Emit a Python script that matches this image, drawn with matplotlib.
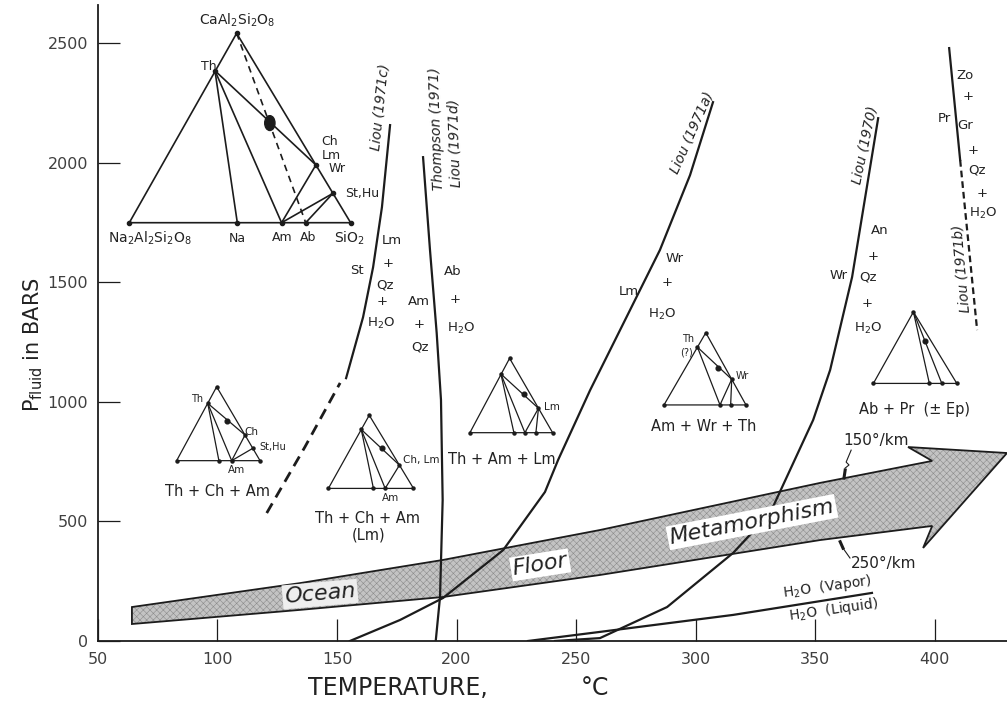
import numpy as np
import matplotlib.pyplot as plt
from matplotlib.patches import Polygon, Ellipse

plt.rcParams['font.family'] = ['DejaVu Sans']
plt.rcParams['hatch.linewidth'] = 0.4
plt.rcParams['mathtext.fontset'] = 'dejavusans'

# reaction curves, temperature (C) vs P fluid (bars)
liou_1971c_T = [153.8, 160.9, 165.1, 168.8, 172.2]
liou_1971c_P = [1099, 1354, 1563, 1814, 2157]
liou_1971c_dash_T = [120.6, 136.5, 151.3]
liou_1971c_dash_P = [535, 810, 1079]

thompson_T = [186.0, 188.9, 191.7, 193.5, 194.2, 193.1, 191.3]
thompson_P = [2023, 1635, 1288, 1008, 589, 184, 0]

liou_1971a_T = [155.4, 176.4, 194.4, 219.5, 237.0, 242.5, 255.9, 272.6, 285.1, 297.7, 307.3]
liou_1971a_P = [0, 88, 180, 380, 623, 757, 1049, 1384, 1635, 1948, 2253]

liou_1970_T = [241.2, 260.0, 288.1, 315.7, 331.2, 349.2, 356.3, 365.5, 376.4]
liou_1970_P = [0, 12, 142, 368, 535, 924, 1133, 1522, 2186]

liou_1971b_T = [406.1, 410.7]
liou_1971b_P = [2479, 2011]
liou_1971b_dash_T = [410.7, 417.8]
liou_1971b_dash_P = [2011, 1300]

h2o_T = [229.9, 260.0, 315.7, 373.8]
h2o_P = [0, 38, 109, 201]

# ocean floor metamorphism arrow outline
arrow_T = [64.2, 134.5, 194.4, 260.0, 352.1, 399.0, 388.9, 430.3, 395.2, 399.0,
           352.1, 260.0, 194.4, 134.5, 64.2]
arrow_P = [142, 242, 339, 464, 661, 753, 811, 786, 389, 481,
           422, 276, 184, 130, 71]

# ternary diagrams: base fraction u, height fraction v
big_u = [0.0, 1.0, 0.485, 0.387, 0.843, 0.920, 0.488, 0.688, 0.797]
big_v = [0.0, 0.0, 1.0, 0.8025, 0.3047, 0.155, 0.0, 0.0, 0.0]
big_ties = [(3, 6), (3, 7), (3, 4), (7, 4), (7, 5), (8, 5)]
big_blob = (0.635, 0.526)

a_u = [0.0, 1.0, 0.48, 0.373, 0.82, 0.913, 0.507, 0.66]
a_v = [0.0, 0.0, 1.0, 0.776, 0.347, 0.167, 0.0, 0.0]
a_ties = [(3, 6), (3, 7), (3, 4), (4, 7), (5, 7)]
a_blob = (0.606, 0.541)

b_u = [0.0, 1.0, 0.48, 0.386, 0.835, 0.529, 0.667]
b_v = [0.0, 0.0, 1.0, 0.805, 0.318, 0.0, 0.0]
b_ties = [(3, 5), (3, 6), (3, 4), (4, 6)]
b_blob = (0.628, 0.546)

c_u = [0.0, 1.0, 0.48, 0.375, 0.829, 0.532, 0.665, 0.798]
c_v = [0.0, 0.0, 1.0, 0.789, 0.328, 0.0, 0.0, 0.0]
c_ties = [(3, 5), (3, 6), (3, 4), (4, 6), (4, 7)]
c_blob = (0.653, 0.52)

d_u = [0.0, 1.0, 0.51, 0.408, 0.826, 0.683, 0.813]
d_v = [0.0, 0.0, 1.0, 0.80, 0.355, 0.0, 0.0]
d_ties = [(3, 5), (3, 4), (4, 5), (4, 6)]
d_blob = (0.655, 0.508)

e_u = [0.0, 1.0, 0.48, 0.671, 0.82]
e_v = [0.0, 0.0, 1.0, 0.0, 0.0]
e_ties = [(2, 3), (2, 4)]
e_blob = (0.62, 0.6)

ink = '#1c1c1c'

fig = plt.figure(figsize=(10.07, 7.05), dpi=100)
ax = fig.add_axes([0.0973, 0.0908, 0.9027, 0.902])
ax.set_xlim(50, 430.3)
ax.set_ylim(0, 2659)

for s in ['top', 'right']:
    ax.spines[s].set_visible(False)
for s in ['left', 'bottom']:
    ax.spines[s].set_linewidth(1.3)
    ax.spines[s].set_color(ink)

ax.set_xticks(range(50, 401, 50))
ax.set_yticks(range(0, 2501, 500))
ax.tick_params(direction='in', length=16, width=0.9, colors=ink,
               labelsize=11.5, labelcolor='#404040')
ax.tick_params(axis='x', pad=8)
ax.tick_params(axis='y', pad=7)

fig.text(0.395, 0.024, 'TEMPERATURE,', fontsize=17, ha='center', va='center', color='#222222')
fig.text(0.591, 0.024, '°C', fontsize=17, ha='center', va='center', color='#222222')
fig.text(0.033, 0.511, r'P$_{\mathrm{fluid}}$ in BARS', fontsize=15, rotation=90,
         ha='center', va='center', color='#222222')

# arrow band
band = list(zip(arrow_T, arrow_P))
ax.add_patch(Polygon(band, closed=True, facecolor='#c3c3c3', edgecolor='none', zorder=1, clip_on=False))
ax.add_patch(Polygon(band, closed=True, facecolor='none', edgecolor='#8c8c8c', hatch='xxxxx',
                     linewidth=0, zorder=1.1, clip_on=False))
ax.add_patch(Polygon(band, closed=True, facecolor='none', edgecolor=ink, linewidth=1.3,
                     zorder=1.2, clip_on=False))

# curves
lw = 1.6
ax.plot(liou_1971c_T, liou_1971c_P, color=ink, lw=lw, zorder=3)
ax.plot(liou_1971c_dash_T, liou_1971c_dash_P, color=ink, lw=lw + 0.4, ls=(0, (4, 2.5)), zorder=3)
ax.plot(thompson_T, thompson_P, color=ink, lw=lw, zorder=3)
ax.plot(liou_1971a_T, liou_1971a_P, color=ink, lw=lw, zorder=3)
ax.plot(liou_1970_T, liou_1970_P, color=ink, lw=lw, zorder=3)
ax.plot(liou_1971b_T, liou_1971b_P, color=ink, lw=lw, zorder=3)
ax.plot(liou_1971b_dash_T, liou_1971b_dash_P, color=ink, lw=lw, ls=(0, (3, 1.8)), zorder=3)
ax.plot(h2o_T, h2o_P, color=ink, lw=lw, zorder=3)


def draw_tri(origin, w, h, us, vs, ties, blob, lw=0.9, ms=2.2, blob_ms=3.4, dashed=None, big=False):
    T = origin[0] + np.array(us) * w
    P = origin[1] + np.array(vs) * h
    idx = [0, 1, 2, 0]
    ax.plot(T[idx], P[idx], color=ink, lw=lw, zorder=3)
    for i, j in ties:
        ax.plot(T[[i, j]], P[[i, j]], color=ink, lw=lw, zorder=3)
    if dashed:
        i, j = dashed
        ax.plot(T[[i, j]], P[[i, j]], color=ink, lw=lw, ls=(0, (4, 3)), zorder=3)
    ax.plot(T, P, 'o', color=ink, ms=ms, zorder=3)
    bx, by = origin[0] + blob[0] * w, origin[1] + blob[1] * h
    if big:
        ax.add_patch(Ellipse((bx, by), 4.3, 62, color=ink, zorder=3))
    else:
        ax.plot([bx], [by], 'o', color=ink, ms=blob_ms, zorder=3)


draw_tri((63.1, 1749), 92.6, 792, big_u, big_v, big_ties, big_blob, lw=1.2, ms=3,
         dashed=(2, 8), big=True)
draw_tri((82.9, 754), 34.9, 309, a_u, a_v, a_ties, a_blob)
draw_tri((146.4, 638), 35.6, 306, b_u, b_v, b_ties, b_blob)
draw_tri((205.6, 871), 34.6, 311, c_u, c_v, c_ties, c_blob)
draw_tri((286.8, 987), 34.3, 302, d_u, d_v, d_ties, d_blob)
draw_tri((374.4, 1077), 34.9, 299, e_u, e_v, e_ties, e_blob)


def label(x, y, s, size=10, **kw):
    kw.setdefault('ha', 'center')
    kw.setdefault('va', 'center')
    ax.text(x, y, s, fontsize=size, color='#222222', zorder=5, **kw)


# big ternary labels
label(108.0, 2596, r'CaAl$_2$Si$_2$O$_8$', 10)
label(96.2, 2401, 'Th', 9)
label(143.6, 2087, 'Ch', 9, ha='left')
label(143.6, 2032, 'Lm', 9, ha='left')
label(146.5, 1976, 'Wr', 9, ha='left')
label(153.5, 1872, 'St,Hu', 9, ha='left')
label(71.8, 1684, r'Na$_2$Al$_2$Si$_2$O$_8$', 10)
label(108.3, 1684, 'Na', 9)
label(126.9, 1688, 'Am', 9)
label(138.0, 1688, 'Ab', 9)
label(155.4, 1684, r'SiO$_2$', 10)

# small ternary labels
label(91.4, 1012, 'Th', 7)
label(114.3, 875, 'Ch', 7.5)
label(123.0, 811, 'St,Hu', 7)
label(107.8, 715, 'Am', 7.5)
label(99.8, 623, 'Th + Ch + Am', 10.5)

label(185.1, 757, 'Ch, Lm', 7.5)
label(172.2, 597, 'Am', 7.5)
label(162.8, 513, 'Th + Ch + Am', 10.5)
label(163.1, 443, '(Lm)', 10.5)

label(239.8, 980, 'Lm', 7.5)
label(218.9, 757, 'Th + Am + Lm', 10.5)

label(299.6, 1262, 'Th', 7, ha='right')
label(299.0, 1205, '(?)', 7, ha='right')
label(316.6, 1110, 'Wr', 7, ha='left')
label(303.3, 896, 'Am + Wr + Th', 10.5)

label(391.8, 966, 'Ab + Pr  (± Ep)', 10.5)

# reaction assemblage labels
for x, y, s in [(172.9, 1676, 'Lm'), (171.5, 1579, '+'), (170.1, 1488, 'Qz'),
                (169.0, 1418, '+'), (168.3, 1328, r'H$_2$O'), (158.2, 1551, 'St'),
                (184.4, 1418, 'Am'), (184.4, 1325, '+'), (184.7, 1230, 'Qz'),
                (198.4, 1544, 'Ab'), (199.4, 1428, '+'), (201.8, 1307, r'H$_2$O'),
                (291.4, 1601, 'Wr'), (287.9, 1498, '+'), (285.9, 1367, r'H$_2$O'),
                (271.9, 1460, 'Lm'),
                (377.2, 1718, 'An'), (374.4, 1607, '+'), (372.3, 1523, 'Qz'),
                (371.6, 1412, '+'), (372.3, 1307, r'H$_2$O'), (359.7, 1530, 'Wr'),
                (412.8, 2366, 'Zo'), (414.1, 2276, '+'), (412.8, 2157, 'Gr'),
                (404.0, 2185, 'Pr'), (416.2, 2053, '+'), (417.6, 1969, 'Qz'),
                (419.7, 1872, '+'), (420.4, 1788, r'H$_2$O')]:
    label(x, y, s, 9.5)

# curve source labels
for x, y, s, r in [(168.0, 2232, 'Liou (1971c)', 84), (191.8, 2140, 'Thompson (1971)', 92),
                   (199.4, 2082, 'Liou (1971d)', 92), (298.5, 2124, 'Liou (1971a)', 66),
                   (370.9, 2074, 'Liou (1970)', 78), (411.5, 1559, 'Liou (1971b)', 95)]:
    label(x, y, s, 10, rotation=r, style='italic', rotation_mode='anchor')

# arrow texts
label(142.9, 196, 'Ocean', 16, rotation=5, style='italic',
      bbox=dict(facecolor='#eeeeee', edgecolor='none', pad=1.5))
label(235.0, 318, 'Floor', 16, rotation=9, style='italic',
      bbox=dict(facecolor='white', edgecolor='none', pad=1.5))
label(323.6, 497, 'Metamorphism', 16, rotation=11, style='italic',
      bbox=dict(facecolor='white', edgecolor='none', pad=1.5))

label(375.5, 840, '150°/km', 11)
label(378.5, 326, '250°/km', 11)
ax.plot([365.1, 363.0, 364.2, 362.6], [798, 748, 736, 723], color=ink, lw=0.8, zorder=3)
ax.plot([362.6, 362.1], [715, 681], color=ink, lw=2.2, zorder=3)
ax.plot([361.7, 364.6], [388, 347], color=ink, lw=0.8, zorder=3)
ax.plot([360.5, 361.7], [415, 388], color=ink, lw=2.2, zorder=3)

label(354.9, 227, r'H$_2$O  (Vapor)', 10, rotation=8)
label(357.7, 130, r'H$_2$O  (Liquid)', 10, rotation=8)

fig.savefig('out.png', dpi=100, facecolor='white')
